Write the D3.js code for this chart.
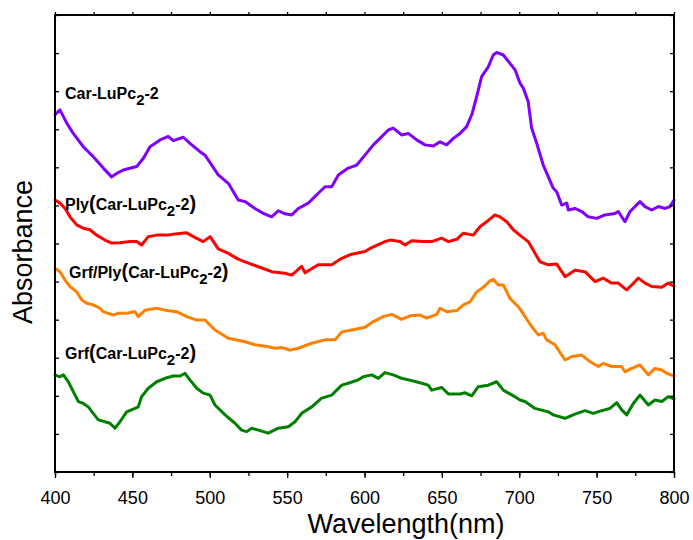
<!DOCTYPE html>
<html>
<head>
<meta charset="utf-8">
<script src="https://cdn.jsdelivr.net/npm/d3@7"></script>
<style>
  html, body { margin: 0; padding: 0; background: #fff; }
  svg { display: block; }
  text { font-family: Arial, "Liberation Sans", sans-serif; fill: #000; }
</style>
</head>
<body>
<svg id="chart" width="693" height="540"></svg>
<script>
// UV-Vis spectra, [wavelength nm, absorbance a.u.]
const carLuPc = [
  [400.0,0.938],[403.2,0.951],[407.6,0.916],[411.8,0.889],[418.3,0.854],[424.7,0.828],
  [431.2,0.798],[436.6,0.775],[439.9,0.784],[444.1,0.793],[452.8,0.802],[457.1,0.824],
  [461.4,0.854],[467.9,0.872],[473.2,0.881],[476.4,0.870],[482.9,0.879],[487.2,0.863],
  [493.7,0.841],[496.9,0.832],[501.3,0.806],[505.5,0.780],[512.0,0.758],[518.4,0.714],
  [522.8,0.710],[529.2,0.692],[534.6,0.679],[540.0,0.670],[544.3,0.686],[548.6,0.678],
  [553.0,0.675],[557.2,0.692],[563.7,0.706],[570.1,0.732],[574.5,0.749],[578.8,0.749],
  [583.1,0.780],[589.5,0.798],[595.0,0.806],[600.3,0.832],[605.7,0.859],[610.0,0.876],
  [615.4,0.898],[618.6,0.903],[624.0,0.885],[628.3,0.889],[633.7,0.872],[639.1,0.859],
  [644.5,0.856],[648.8,0.867],[653.1,0.859],[657.4,0.876],[661.7,0.889],[666.0,0.907],
  [669.3,0.938],[672.5,0.986],[675.7,1.038],[680.0,1.064],[683.2,1.095],[685.4,1.102],
  [689.7,1.095],[694.0,1.073],[697.3,1.056],[700.5,1.021],[702.6,1.008],[705.8,0.972],
  [708.0,0.903],[711.3,0.863],[715.5,0.806],[718.8,0.775],[722.0,0.745],[724.2,0.736],
  [727.4,0.701],[730.7,0.706],[731.7,0.688],[736.0,0.692],[740.4,0.684],[744.6,0.670],
  [750.0,0.666],[755.4,0.675],[761.9,0.679],[764.0,0.684],[768.3,0.657],[771.6,0.684],
  [778.0,0.710],[781.3,0.697],[785.6,0.688],[789.9,0.697],[794.2,0.692],[797.4,0.697],
  [800.0,0.714]
];

const plyCarLuPc = [
  [400.0,0.714],[403.2,0.706],[406.5,0.692],[409.7,0.670],[414.0,0.649],[418.3,0.640],
  [422.6,0.636],[426.9,0.622],[432.3,0.609],[436.6,0.601],[442.0,0.602],[448.5,0.605],
  [452.8,0.605],[456.0,0.596],[460.3,0.618],[465.7,0.622],[472.2,0.622],[477.5,0.625],
  [485.1,0.628],[489.4,0.618],[495.8,0.605],[500.2,0.618],[505.5,0.586],[512.0,0.574],
  [518.4,0.559],[522.8,0.552],[531.4,0.539],[540.0,0.526],[548.6,0.522],[553.0,0.517],
  [559.4,0.540],[561.6,0.523],[570.1,0.544],[578.8,0.544],[585.3,0.561],[591.7,0.572],
  [600.3,0.579],[603.6,0.587],[613.2,0.605],[616.5,0.609],[622.9,0.605],[626.2,0.596],
  [630.5,0.607],[638.0,0.605],[643.4,0.605],[649.9,0.614],[654.2,0.605],[659.6,0.611],
  [663.9,0.627],[670.3,0.622],[674.6,0.644],[678.9,0.657],[684.3,0.675],[687.6,0.670],
  [691.9,0.657],[696.2,0.636],[701.6,0.618],[705.8,0.605],[713.4,0.552],[718.8,0.544],
  [724.2,0.546],[729.6,0.513],[736.0,0.530],[742.5,0.526],[749.0,0.500],[754.3,0.509],
  [759.7,0.496],[764.0,0.496],[769.4,0.478],[772.7,0.491],[777.0,0.509],[781.3,0.496],
  [785.6,0.487],[792.1,0.485],[796.3,0.496],[800.0,0.488]
];

const grfPlyCarLuPc = [
  [400.0,0.535],[403.2,0.526],[406.5,0.504],[409.7,0.487],[414.0,0.473],[417.3,0.452],
  [420.5,0.443],[424.7,0.439],[429.1,0.430],[431.2,0.421],[437.7,0.412],[440.9,0.417],
  [446.3,0.417],[451.7,0.421],[453.8,0.408],[458.2,0.425],[465.7,0.430],[471.1,0.425],
  [478.6,0.421],[485.1,0.408],[491.6,0.399],[496.9,0.399],[503.4,0.373],[512.0,0.351],
  [522.8,0.342],[529.2,0.334],[537.8,0.329],[542.2,0.325],[546.5,0.327],[551.9,0.320],
  [557.2,0.325],[565.9,0.338],[574.5,0.347],[580.9,0.347],[585.3,0.368],[591.7,0.373],
  [600.3,0.380],[605.7,0.395],[612.1,0.408],[617.6,0.414],[624.0,0.401],[629.4,0.410],
  [635.9,0.412],[640.2,0.404],[646.7,0.414],[648.8,0.430],[653.1,0.421],[659.6,0.424],
  [663.9,0.439],[668.2,0.447],[672.5,0.473],[676.8,0.485],[681.1,0.502],[683.2,0.506],
  [686.5,0.491],[689.7,0.491],[694.0,0.456],[699.4,0.434],[701.6,0.421],[708.0,0.382],
  [712.3,0.360],[715.5,0.364],[717.7,0.347],[723.1,0.334],[729.6,0.294],[733.9,0.303],
  [740.4,0.307],[745.7,0.290],[751.1,0.277],[754.3,0.285],[759.7,0.277],[766.2,0.277],
  [768.3,0.263],[772.7,0.272],[778.0,0.281],[783.4,0.255],[787.7,0.272],[792.1,0.268],
  [795.3,0.259],[800.0,0.252]
];

const grfCarLuPc = [
  [400.0,0.255],[403.2,0.250],[405.4,0.255],[408.6,0.237],[411.8,0.211],[415.1,0.185],
  [418.3,0.180],[421.5,0.171],[424.7,0.154],[428.0,0.137],[432.3,0.132],[435.5,0.128],
  [438.8,0.115],[442.0,0.132],[446.3,0.158],[451.7,0.167],[453.8,0.171],[456.0,0.198],
  [460.3,0.220],[465.7,0.237],[471.1,0.246],[476.4,0.252],[480.8,0.252],[484.0,0.259],
  [487.2,0.242],[491.6,0.220],[495.8,0.207],[500.2,0.202],[503.4,0.176],[509.9,0.150],
  [516.3,0.128],[520.6,0.110],[523.9,0.106],[527.1,0.115],[531.4,0.110],[537.8,0.102],
  [544.3,0.115],[550.8,0.119],[555.1,0.132],[559.4,0.154],[565.9,0.171],[572.3,0.194],
  [578.8,0.202],[585.3,0.228],[589.5,0.233],[596.0,0.242],[599.2,0.250],[604.7,0.255],
  [608.9,0.246],[613.2,0.261],[618.6,0.255],[624.0,0.246],[630.5,0.240],[637.0,0.233],
  [641.2,0.228],[643.4,0.215],[649.9,0.222],[654.2,0.205],[661.7,0.205],[665.0,0.208],
  [669.3,0.200],[673.5,0.224],[680.0,0.228],[685.4,0.237],[689.7,0.215],[696.2,0.200],
  [700.5,0.189],[703.7,0.185],[710.2,0.167],[718.8,0.158],[722.0,0.150],[729.6,0.141],
  [736.0,0.152],[742.5,0.161],[747.8,0.154],[753.3,0.161],[758.6,0.167],[763.0,0.182],
  [766.2,0.163],[769.4,0.150],[773.7,0.180],[778.0,0.202],[783.4,0.176],[787.7,0.189],
  [792.1,0.185],[796.3,0.198],[800.0,0.192]
];

const xTicks = [400, 450, 500, 550, 600, 650, 700, 750, 800];
const seriesColors = ["#8000FF", "#FF0000", "#FF8000", "#008000"];

const width = 693, height = 540;
const margin = { top: 15, right: 19, bottom: 68, left: 55 };
const iw = width - margin.left - margin.right;
const ih = height - margin.top - margin.bottom;

const svg = d3.select("#chart");
const g = svg.append("g").attr("transform", `translate(${margin.left},${margin.top})`);

const x = d3.scaleLinear().domain([400, 800]).range([0, iw]);
const y = d3.scaleLinear().domain([0, 1.2]).range([ih, 0]);

const line = d3.line()
  .x(d => x(d[0]))
  .y(d => y(d[1]));

const series = [carLuPc, plyCarLuPc, grfPlyCarLuPc, grfCarLuPc];
g.selectAll("path.spectrum")
  .data(series)
  .join("path")
  .attr("class", "spectrum")
  .attr("d", line)
  .attr("fill", "none")
  .attr("stroke", (d, i) => seriesColors[i])
  .attr("stroke-width", 3)
  .attr("stroke-linejoin", "round")
  .attr("stroke-linecap", "round");

// Axes: bottom (labels, outward ticks), top (outward, no labels), left/right (inward, no labels)
const minorX = d3.range(400, 801, 25);
const yTickVals = d3.range(0, 1.2001, 0.1);

const bottom = g.append("g").attr("transform", `translate(0,${ih})`)
  .call(d3.axisBottom(x).tickValues(minorX).tickSize(4).tickFormat(""));
bottom.append("g").call(d3.axisBottom(x).tickValues(xTicks).tickSize(6).tickPadding(13)
  .tickFormat(d3.format("d")));
g.append("g")
  .call(d3.axisTop(x).tickValues(minorX).tickSize(3).tickFormat(""));
g.append("g")
  .call(d3.axisLeft(y).tickValues(yTickVals).tickSize(-4).tickFormat(""));
g.append("g").attr("transform", `translate(${iw},0)`)
  .call(d3.axisRight(y).tickValues(yTickVals).tickSize(-4).tickFormat(""));

g.selectAll(".domain").remove();
g.selectAll(".tick line").attr("stroke", "#000").attr("stroke-width", 1.3);
g.selectAll(".tick text")
  .style("font-family", "Arial, 'Liberation Sans', sans-serif")
  .style("font-size", "18px")
  .attr("fill", "#000");

// Frame
g.append("rect")
  .attr("x", 0).attr("y", 0).attr("width", iw).attr("height", ih)
  .attr("fill", "none").attr("stroke", "#000").attr("stroke-width", 2);

// Axis titles
svg.append("text")
  .attr("x", 406)
  .attr("y", 533)
  .attr("text-anchor", "middle")
  .style("font-size", "27px")
  .text("Wavelength(nm)");

svg.append("text")
  .attr("transform", "translate(32,252) rotate(-90)")
  .attr("text-anchor", "middle")
  .style("font-size", "27px")
  .text("Absorbance");

// Series labels with subscript "2"
const labels = [
  { parts: [["Car-LuPc"], ["2", "sub"], ["-2"]], x: 65, y: 99 },
  { parts: [["Ply"], ["(", "paren"], ["Car-LuPc"], ["2", "sub"], ["-2"], [")", "paren"]], x: 65, y: 210 },
  { parts: [["Grf/Ply"], ["(", "paren"], ["Car-LuPc"], ["2", "sub"], ["-2"], [")", "paren"]], x: 69, y: 278 },
  { parts: [["Grf"], ["(", "paren"], ["Car-LuPc"], ["2", "sub"], ["-2"], [")", "paren"]], x: 65, y: 359 }
];

labels.forEach(lb => {
  const t = svg.append("text")
    .attr("x", lb.x).attr("y", lb.y)
    .style("font-size", "16px")
    .style("font-weight", "bold");
  let shifted = false;
  lb.parts.forEach(([txt, kind]) => {
    const ts = t.append("tspan").text(txt);
    if (kind === "sub") {
      ts.attr("dy", 6).style("font-size", "15px");
      shifted = true;
    } else {
      if (shifted) { ts.attr("dy", -6); shifted = false; }
      if (kind === "paren") ts.style("font-size", "20px");
    }
  });
});
</script>
</body>
</html>
